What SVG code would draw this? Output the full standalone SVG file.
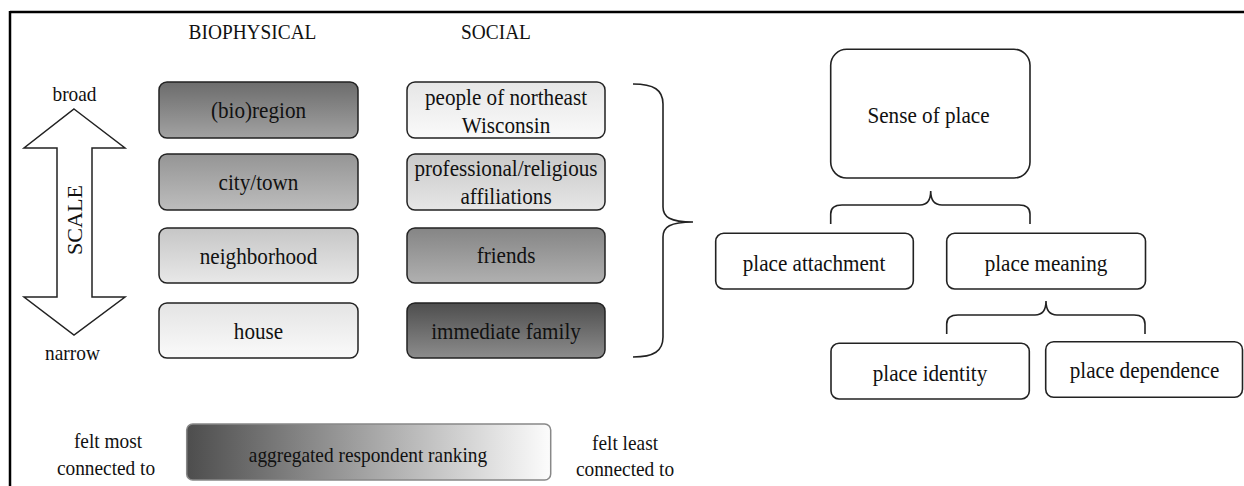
<svg xmlns="http://www.w3.org/2000/svg" width="1244" height="486" viewBox="0 0 1244 486">
<style>
text{font-family:"Liberation Serif","Times New Roman",serif;fill:#111;text-anchor:middle}
.lb{font-size:21.5px}
.bx{font-size:23.5px}
.box{stroke:#222;stroke-width:1.5}
.wbox{fill:#fff;stroke:#222;stroke-width:1.6}
.conn{fill:none;stroke:#222;stroke-width:1.6}
</style>
<defs>
<linearGradient id="gBio" x1="0" y1="0" x2="0" y2="1"><stop offset="0" stop-color="#6c6c6c"/><stop offset="1" stop-color="#a2a2a2"/></linearGradient>
<linearGradient id="gCity" x1="0" y1="0" x2="0" y2="1"><stop offset="0" stop-color="#959595"/><stop offset="1" stop-color="#bdbdbd"/></linearGradient>
<linearGradient id="gNeigh" x1="0" y1="0" x2="0" y2="1"><stop offset="0" stop-color="#c6c6c6"/><stop offset="1" stop-color="#e8e8e8"/></linearGradient>
<linearGradient id="gHouse" x1="0" y1="0" x2="0" y2="1"><stop offset="0" stop-color="#e4e4e4"/><stop offset="1" stop-color="#fafafa"/></linearGradient>
<linearGradient id="gPeople" x1="0" y1="0" x2="0" y2="1"><stop offset="0" stop-color="#e6e6e6"/><stop offset="1" stop-color="#fafafa"/></linearGradient>
<linearGradient id="gProf" x1="0" y1="0" x2="0" y2="1"><stop offset="0" stop-color="#c9c9c9"/><stop offset="1" stop-color="#e6e6e6"/></linearGradient>
<linearGradient id="gFriends" x1="0" y1="0" x2="0" y2="1"><stop offset="0" stop-color="#858585"/><stop offset="1" stop-color="#b0b0b0"/></linearGradient>
<linearGradient id="gFamily" x1="0" y1="0" x2="0" y2="1"><stop offset="0" stop-color="#4e4e4e"/><stop offset="1" stop-color="#8c8c8c"/></linearGradient>
<linearGradient id="gLegend" x1="0" y1="0" x2="1" y2="0"><stop offset="0" stop-color="#4d4d4d"/><stop offset="1" stop-color="#fcfcfc"/></linearGradient>
</defs>

<g id="frame">
<line x1="10" y1="12" x2="1244" y2="12" stroke="#000" stroke-width="2.5"/>
<line x1="10" y1="11" x2="10" y2="486" stroke="#000" stroke-width="2.5"/>
</g>

<g id="headers">
<text class="lb" transform="translate(252.5,39) scale(0.9,1)">BIOPHYSICAL</text>
<text class="lb" transform="translate(496,39) scale(0.9,1)">SOCIAL</text>
</g>

<g id="scale">
<polygon points="74,109 125,148 92,148 92,297 125,297 74,335 24,297 57,297 57,148 24,148" fill="#fff" stroke="#222" stroke-width="1.5"/>
<text style="font-size:21px" transform="translate(82,220) rotate(-90) scale(1.05,1)" dy="0">SCALE</text>
<text class="lb" transform="translate(74.5,100.5) scale(0.9,1)">broad</text>
<text class="lb" transform="translate(72.5,360) scale(0.9,1)">narrow</text>
</g>

<g id="bio-region"><rect class="box" x="159" y="82" width="199" height="56" rx="8" fill="url(#gBio)"/><text class="bx" transform="translate(258.5,118) scale(0.9,1)">(bio)region</text></g>
<g id="city-town"><rect class="box" x="159" y="154" width="199" height="56" rx="8" fill="url(#gCity)"/><text class="bx" transform="translate(258.5,190) scale(0.9,1)">city/town</text></g>
<g id="neighborhood"><rect class="box" x="159" y="228" width="199" height="55" rx="8" fill="url(#gNeigh)"/><text class="bx" transform="translate(258.5,263.5) scale(0.9,1)">neighborhood</text></g>
<g id="house"><rect class="box" x="159" y="303" width="199" height="55" rx="8" fill="url(#gHouse)"/><text class="bx" transform="translate(258.5,338.5) scale(0.9,1)">house</text></g>

<g id="people"><rect class="box" x="407" y="82" width="198" height="56" rx="8" fill="url(#gPeople)"/><text class="bx" transform="translate(506,105) scale(0.9,1)">people of northeast</text><text class="bx" transform="translate(506,132.5) scale(0.9,1)">Wisconsin</text></g>
<g id="professional"><rect class="box" x="407" y="154" width="198" height="56" rx="8" fill="url(#gProf)"/><text class="bx" transform="translate(506,175.5) scale(0.9,1)">professional/religious</text><text class="bx" transform="translate(506,204) scale(0.9,1)">affiliations</text></g>
<g id="friends"><rect class="box" x="407" y="228" width="198" height="55" rx="8" fill="url(#gFriends)"/><text class="bx" transform="translate(506,263) scale(0.9,1)">friends</text></g>
<g id="family"><rect class="box" x="407" y="303" width="198" height="55" rx="8" fill="url(#gFamily)"/><text class="bx" transform="translate(506,338.5) scale(0.9,1)">immediate family</text></g>

<g id="connectors">
<path class="conn" d="M633,84 C654,84 663,90 663,104 V207 C663,217 670,222 693,222 C670,222 663,227 663,237 V337 C663,351 654,357 633,357"/>
<path class="conn" d="M830.7,224 V214 C830.7,208 834,205 842,205 H920 C927,205 930.7,200 930.7,191 C930.7,200 934,205 942,205 H1019 C1027,205 1030,208 1030,214 V224"/>
<path class="conn" d="M946.7,334 V324 C946.7,318 950,315 958,315 H1035 C1042,315 1046,310 1046,301 C1046,310 1050,315 1057,315 H1134 C1142,315 1145,318 1145,324 V334"/>
</g>

<g id="sense"><rect class="wbox" x="830.7" y="49.3" width="199.3" height="128.7" rx="16"/><text class="bx" transform="translate(928.5,122.5) scale(0.9,1)">Sense of place</text></g>
<g id="attachment"><rect class="wbox" x="715.7" y="233.3" width="197.6" height="55.7" rx="8"/><text class="bx" transform="translate(814,270.5) scale(0.9,1)">place attachment</text></g>
<g id="meaning"><rect class="wbox" x="946.7" y="233.3" width="198.8" height="55.7" rx="8"/><text class="bx" transform="translate(1046,270.5) scale(0.9,1)">place meaning</text></g>
<g id="identity"><rect class="wbox" x="831" y="343.3" width="198.3" height="55.7" rx="8"/><text class="bx" transform="translate(930,381) scale(0.9,1)">place identity</text></g>
<g id="dependence"><rect class="wbox" x="1045.7" y="341.7" width="196.8" height="55.6" rx="8"/><text class="bx" transform="translate(1144.5,378.3) scale(0.9,1)">place dependence</text></g>

<g id="legend">
<rect x="186.7" y="424" width="364" height="56" rx="6" fill="url(#gLegend)" stroke="#888" stroke-width="1.5"/>
<text class="lb" transform="translate(368,461.5) scale(0.9,1)">aggregated respondent ranking</text>
<text class="lb" transform="translate(108,448) scale(0.9,1)">felt most</text>
<text class="lb" transform="translate(106,475) scale(0.9,1)">connected to</text>
<text class="lb" transform="translate(625,449.5) scale(0.9,1)">felt least</text>
<text class="lb" transform="translate(625,476) scale(0.9,1)">connected to</text>
</g>
</svg>
